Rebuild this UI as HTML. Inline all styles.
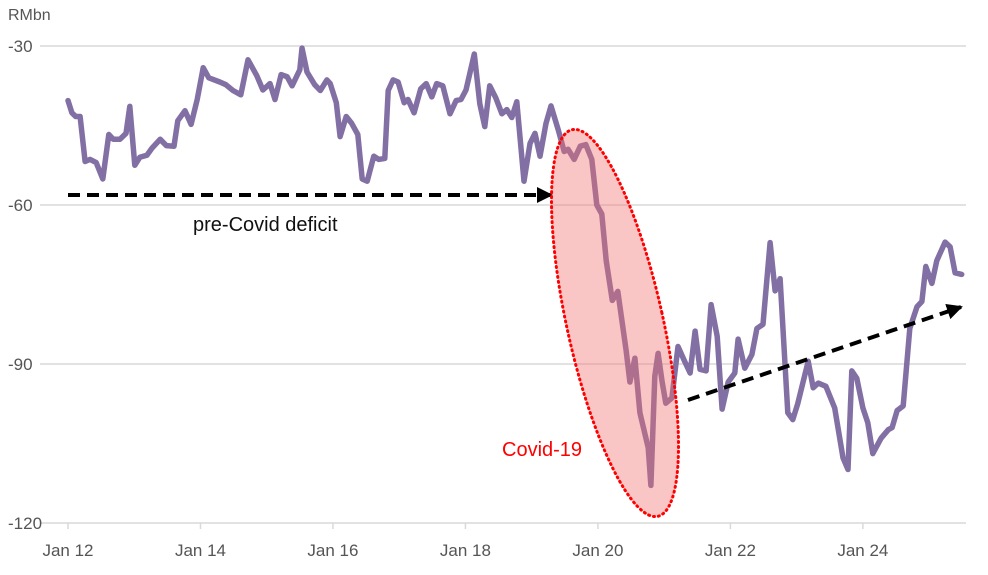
<!DOCTYPE html>
<html><head><meta charset="utf-8"><style>
html,body{margin:0;padding:0;background:#fff;}
svg{display:block;font-family:"Liberation Sans",sans-serif;}
</style></head><body>
<svg id="chart" width="988" height="575" viewBox="0 0 988 575">
<g id="grid"></g>
<g id="axes"></g>
<text x="8" y="20" font-size="16" fill="#555">RMbn</text>
<g id="series"></g>
<g id="annot"></g>
</svg>
<script>
// months since Jan 2012
const months=[0,0.7,1.4,2.2,3.1,4.0,5.1,6.3,7.4,8.2,9.4,10.5,11.2,12.1,13.0,14.3,15.2,16.7,17.8,19.2,19.9,21.2,22.3,23.4,24.5,25.5,27.5,28.6,29.9,31.3,32.6,34.2,35.3,36.6,37.5,38.6,39.7,40.6,42.0,42.4,43.3,44.7,45.7,46.9,47.5,48.6,49.3,50.4,51.4,52.5,53.3,54.2,55.4,56.3,57.4,58.0,58.9,59.8,60.9,61.6,62.7,63.9,64.9,65.9,66.8,67.9,69.2,70.3,71.2,72.1,73.6,74.6,75.5,76.4,77.5,78.6,79.5,80.4,81.3,82.6,83.7,84.6,85.5,86.6,87.5,88.8,89.9,90.6,91.7,92.8,93.8,94.9,95.8,96.7,97.5,98.6,99.6,101.1,101.8,102.7,103.6,105.1,105.6,106.3,106.9,107.6,108.3,109.4,110.5,111.7,112.7,113.6,114.5,115.6,116.5,117.6,118.5,119.6,120.8,121.4,122.6,123.9,124.8,125.9,127.2,128.1,129.0,130.4,131.3,132.2,134.1,135.0,135.9,137.3,138.9,140.4,141.3,142.0,142.9,144.0,144.9,145.8,147.3,148.6,149.3,150.2,151.3,152.5,153.8,154.7,155.4,156.5,157.4,158.9,159.8,160.7,161.9];
const values=[-40.3,-42.6,-43.3,-43.3,-51.8,-51.4,-52.0,-55.1,-46.7,-47.6,-47.6,-46.5,-41.4,-52.5,-51.0,-50.6,-49.3,-47.6,-48.8,-48.9,-44.1,-42.2,-44.8,-40.1,-34.1,-36.0,-36.8,-37.3,-38.4,-39.2,-32.6,-35.6,-38.3,-37.1,-40.1,-35.4,-35.8,-37.5,-34.5,-30.4,-34.9,-37.3,-38.4,-36.4,-37.1,-40.7,-47.1,-43.3,-44.6,-46.7,-55.1,-55.5,-50.8,-51.4,-51.2,-38.4,-36.4,-36.8,-40.7,-40.1,-42.6,-38.1,-37.1,-39.6,-37.1,-37.5,-42.8,-40.3,-40.1,-38.3,-31.5,-40.9,-45.2,-37.5,-39.8,-42.8,-42.0,-43.5,-40.5,-55.5,-48.4,-46.5,-50.8,-44.6,-41.3,-45.8,-49.9,-49.5,-51.4,-48.9,-48.6,-51.4,-60.0,-61.7,-70.5,-78.0,-76.3,-87.4,-93.4,-88.9,-99.2,-105.8,-112.9,-92.3,-88.0,-93.2,-97.4,-96.4,-86.7,-89.5,-91.7,-83.8,-91.0,-91.3,-78.8,-84.8,-98.5,-93.4,-91.7,-85.3,-90.8,-88.2,-83.3,-82.5,-67.1,-76.2,-73.9,-99.2,-100.5,-97.5,-89.5,-94.5,-93.6,-94.2,-98.3,-107.7,-109.9,-91.3,-92.7,-98.3,-101.1,-106.9,-104.0,-102.4,-102.0,-98.8,-97.9,-83.3,-79.2,-78.2,-71.6,-74.8,-70.5,-67.0,-67.9,-72.8,-73.1];
const yTicks=[-30,-60,-90,-120];
const xTickLabels=["Jan 12","Jan 14","Jan 16","Jan 18","Jan 20","Jan 22","Jan 24"];
const xTickMonths=[0,24,48,72,96,120,144];

const NS="http://www.w3.org/2000/svg";
const X0=68,PXM=5.52,Y0=46,PXV=5.3;
const xs=m=>X0+m*PXM;
const ys=v=>Y0+(-30-v)*PXV;
function mk(tag,attrs,parent){const e=document.createElementNS(NS,tag);for(const k in attrs)e.setAttribute(k,attrs[k]);parent.appendChild(e);return e;}
const grid=document.getElementById('grid'),axes=document.getElementById('axes'),series=document.getElementById('series'),annot=document.getElementById('annot');
yTicks.forEach(v=>{
  const l=mk('line',{x1:40,x2:966,y1:ys(v),y2:ys(v),stroke:'#d9d9d9','stroke-width':1.5},grid);
  
  
  const t=mk('text',{x:8,y:ys(v)+6,'font-size':17,fill:'#555'},axes);
  t.textContent=v;
  
  
});
xTickMonths.forEach((m,i)=>{
  const tk=mk('line',{x1:xs(m),x2:xs(m),y1:ys(-120),y2:ys(-120)+6,stroke:'#d9d9d9','stroke-width':1.5},axes);
  
  
  const t=mk('text',{x:xs(m),y:556,'font-size':17,fill:'#555','text-anchor':'middle'},axes);
  t.textContent=xTickLabels[i];
  
  
});
const pts=months.map((m,i)=>xs(m).toFixed(1)+','+ys(values[i]).toFixed(1)).join(' ');
const pl=mk('polyline',{points:pts,fill:'none',stroke:'#8270a4','stroke-width':5.5,'stroke-linejoin':'round','stroke-linecap':'round'},series);



// annotations
const defs=mk('defs',{},annot);
const mkr=mk('marker',{id:'ah',markerWidth:4,markerHeight:4,refX:3.5,refY:2,orient:'auto',markerUnits:'strokeWidth'},defs);
mk('path',{d:'M0,0 L4,2 L0,4 Z',fill:'#000'},mkr);
const a1=mk('line',{x1:68,y1:195,x2:551,y2:195,stroke:'#000','stroke-width':4,'stroke-dasharray':'12,7','marker-end':'url(#ah)'},annot);


const a2=mk('line',{x1:688,y1:400,x2:961,y2:307,stroke:'#000','stroke-width':4,'stroke-dasharray':'12,7','marker-end':'url(#ah)'},annot);


const el=mk('ellipse',{cx:615,cy:323,rx:48,ry:198,transform:'rotate(-12.5 615 323)',fill:'rgba(240,110,110,0.4)',stroke:'#f00','stroke-width':3,'stroke-dasharray':'1,4','stroke-linecap':'round'},annot);


const t1=mk('text',{x:193,y:231,'font-size':20,fill:'#111'},annot);
t1.textContent='pre-Covid deficit';


const t2=mk('text',{x:502,y:456,'font-size':20,fill:'#f00'},annot);
t2.textContent='Covid-19';


</script>
</body></html>
